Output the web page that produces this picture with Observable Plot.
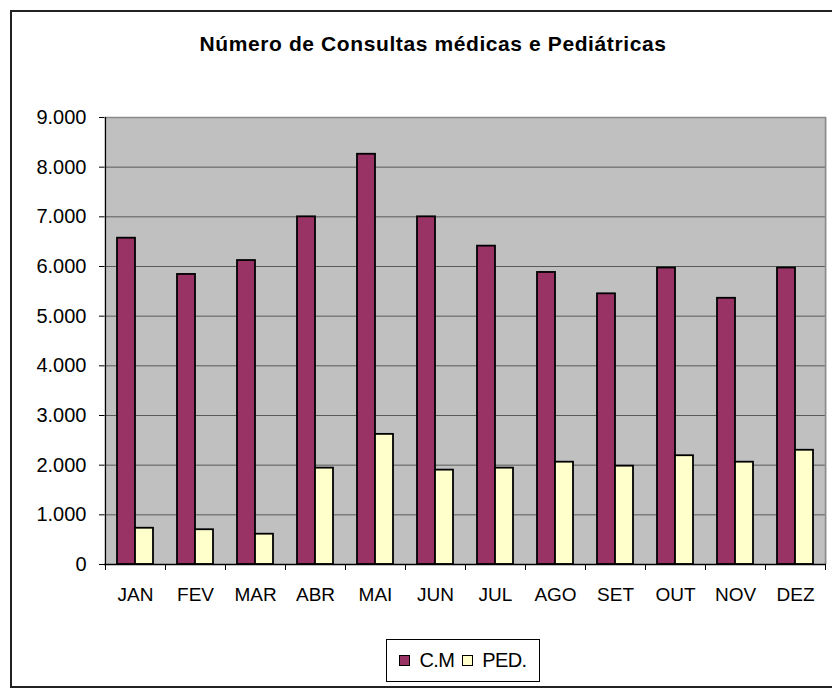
<!DOCTYPE html>
<html>
<head>
<meta charset="utf-8">
<script src="https://cdn.jsdelivr.net/npm/d3@7"></script>
<script src="https://cdn.jsdelivr.net/npm/@observablehq/plot@0.6"></script>
<style>
  html, body { margin: 0; padding: 0; background: #fff; }
  #wrap { position: relative; width: 832px; height: 688px; overflow: hidden; font-family: "Liberation Sans", Arial, sans-serif; }
  #border { position: absolute; left: 10px; top: 10px; width: 860px; height: 674px; border: 2px solid #222; }
  #title { position: absolute; left: 0; width: 866px; top: 32px; text-align: center; font-weight: bold; font-size: 21px; letter-spacing: 0.6px; color: #000; }
  #chart { position: absolute; left: 0; top: 0; }
  #legend { position: absolute; left: 386px; top: 639px; width: 154px; height: 43px; border: 1px solid #000; box-sizing: border-box; display: flex; align-items: center; justify-content: center; gap: 8px; font-size: 20px; letter-spacing: -0.6px; color: #000; background: #fff; }
  .sw { display: inline-block; width: 9px; height: 9px; border: 1.5px solid #000; margin-right: 9px; }
  .item { display: flex; align-items: center; }
</style>
</head>
<body>
<div id="wrap">
  <div id="border"></div>
  <div id="chart"></div>
  <div id="title">Número de Consultas médicas e Pediátricas</div>
  <div id="legend"></div>
</div>
<script>
const months = ["JAN","FEV","MAR","ABR","MAI","JUN","JUL","AGO","SET","OUT","NOV","DEZ"];
const cmValues = [6570, 5840, 6120, 7000, 8260, 7000, 6410, 5880, 5450, 5970, 5360, 5970];
const pedValues = [730, 700, 610, 1940, 2620, 1900, 1940, 2060, 1980, 2190, 2060, 2300];
const seriesNames = ["C.M", "PED."];
const seriesColors = ["#993366", "#FFFFCC"];
const yTicks = [0, 1000, 2000, 3000, 4000, 5000, 6000, 7000, 8000, 9000];

const rows = months.map((m, i) => ({month: m, cm: cmValues[i], ped: pedValues[i]}));
const fmt = d3.formatLocale({decimal: ",", thousands: ".", grouping: [3], currency: ["", ""]}).format(",d");

const chart = Plot.plot({
  width: 832,
  height: 620,
  marginTop: 117,
  marginBottom: 56,
  marginLeft: 104,
  marginRight: 6,
  style: {fontFamily: '"Liberation Sans", Arial, sans-serif', fontSize: "20px", color: "#000", background: "transparent"},
  x: {domain: months, paddingInner: 0.4, paddingOuter: 0.2, label: null},
  y: {domain: [0, 9000], label: null},
  marks: [
    Plot.frame({fill: "#c0c0c0", stroke: null}),
    Plot.ruleY(yTicks.filter(d => d > 0 && d < 9000), {stroke: "#5a5a5a", strokeWidth: 1}),
    Plot.ruleY([9000], {stroke: "#8a8a8a", strokeWidth: 1.5}),
    Plot.ruleX([months[months.length - 1]], {dx: 30, stroke: "#8a8a8a", strokeWidth: 1.5}),
    Plot.barY(rows, {x: "month", y: "cm", fill: seriesColors[0], stroke: "#000", strokeWidth: 1.8, insetRight: 18}),
    Plot.barY(rows, {x: "month", y: "ped", fill: seriesColors[1], stroke: "#000", strokeWidth: 1.8, insetLeft: 18}),
    Plot.ruleX([months[0]], {dx: -30, stroke: "#000", strokeWidth: 1.2}),
    Plot.ruleY([0], {stroke: "#000", strokeWidth: 1.5}),
    Plot.ruleX(months, {x: d => d, y1: 0, y2: 0, dx: -30, insetBottom: -6, stroke: "#000"}),
    Plot.ruleX([months[months.length - 1]], {x: d => d, y1: 0, y2: 0, dx: 30, insetBottom: -6, stroke: "#000"}),
    Plot.axisY({ticks: yTicks, tickFormat: fmt, tickSize: 5, tickPadding: 13, stroke: "#000", fontSize: 20}),
    Plot.axisX({tickSize: 0, tickPadding: 23, fontSize: 19})
  ]
});
document.getElementById("chart").appendChild(chart);

const legend = document.getElementById("legend");
seriesNames.forEach((name, i) => {
  const item = document.createElement("span");
  item.className = "item";
  const sw = document.createElement("span");
  sw.className = "sw";
  sw.style.background = seriesColors[i];
  item.appendChild(sw);
  item.appendChild(document.createTextNode(name));
  legend.appendChild(item);
});
</script>
</body>
</html>
